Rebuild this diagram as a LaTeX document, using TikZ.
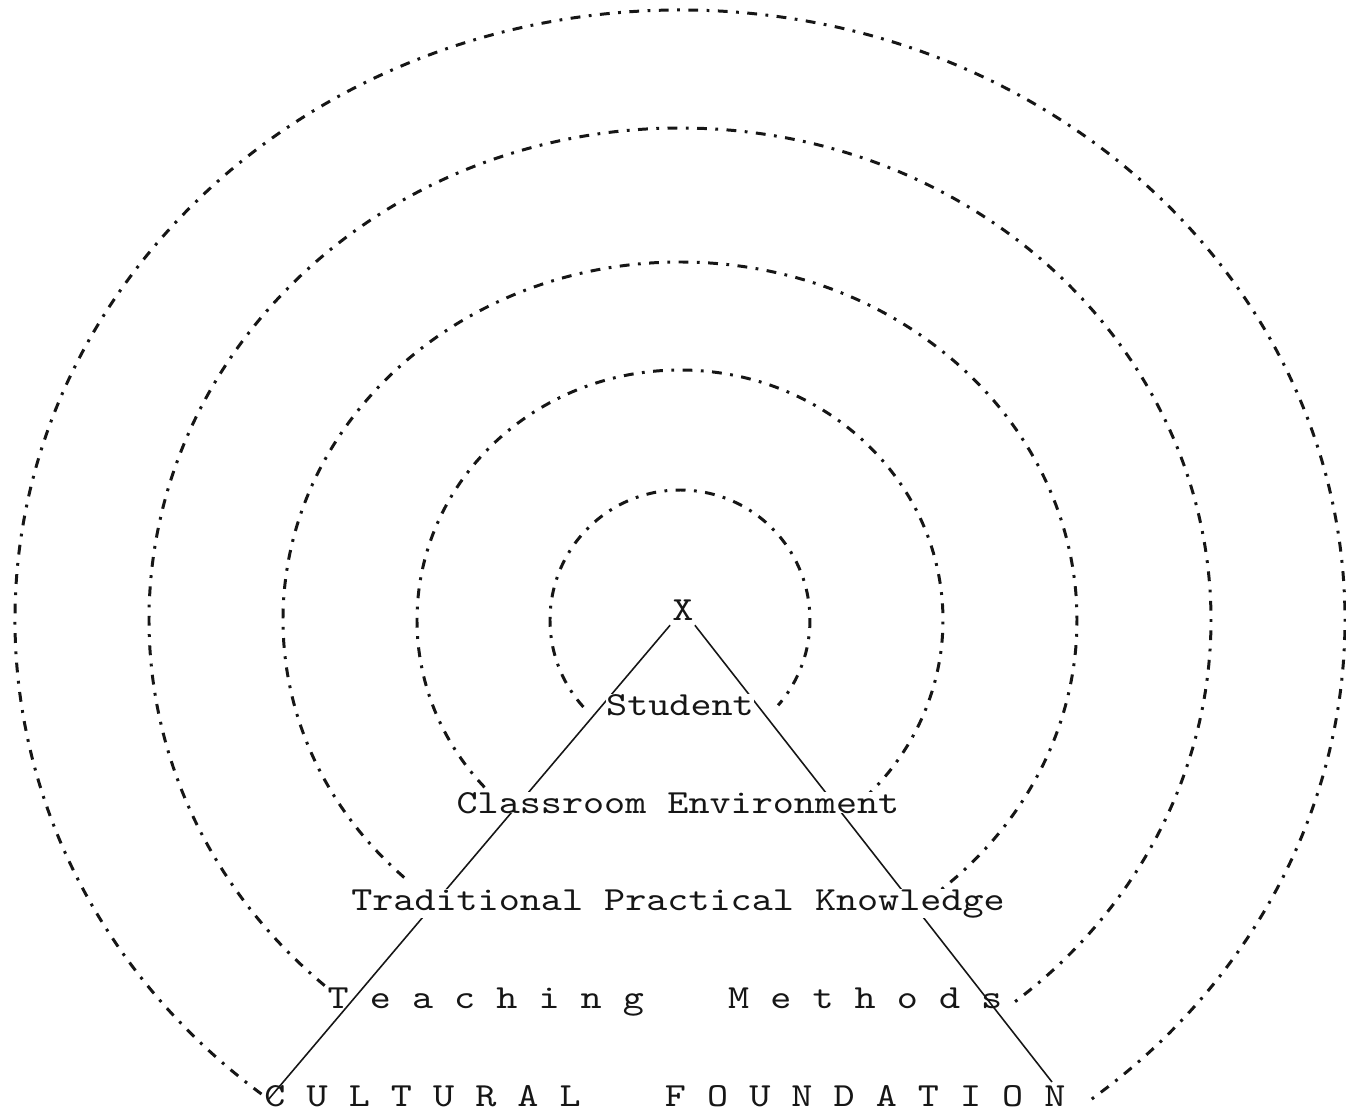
\documentclass[tikz,border=0pt]{standalone}
\usepackage{tikz}
\usetikzlibrary{positioning}
\definecolor{cInk}{HTML}{161616}
\tikzset{
  ring/.style ={draw=cInk, line width=0.85pt, dash pattern=on 2.8pt off 2.4pt on 0.8pt off 2.4pt},
  side/.style ={draw=cInk, line width=0.45pt},
  layer/.style={font=\fontsize{9.6}{11}\selectfont\ttfamily, text=cInk, xscale=1.19, inner sep=0pt, anchor=base},
}

\begin{document}
\begin{tikzpicture}[x=0.1mm, y=0.1mm]
  \useasboundingbox (-680,-493) rectangle (666,620);
  \coordinate (hub) at (0,0);
  \node[layer, anchor=center, inner sep=1.2pt] (apex) at (3,10) {X};
  \coordinate (footL) at (-412,-480);
  \coordinate (footR) at (372,-462);
  \draw[side] (apex) -- (footL);
  \draw[side] (apex) -- (footR);
  % five rings round the student, open at the bottom
  \foreach \rx/\ry/\sa/\ea in {130/130/222/-41, 263/250/222/-46, 397/358/226/-49, 531/492/228/-51, 665/610/231/-52}
    \draw[ring] ([shift={({\sa}:{\rx} and {\ry})}]hub) arc[start angle=\sa, end angle=\ea, x radius=\rx, y radius=\ry];
  \node[layer, fill=white] (student) at (0,-95) {Student};
  \node[layer, fill=white] (room) at (-2,-193) {Classroom Environment};
  \node[layer, fill=white] (know) at (-2,-290) {Traditional Practical Knowledge};
  \node[layer] (teach) at (-15,-388) {T~e~a~c~h~i~n~g~~~~M~e~t~h~o~d~s};
  \node[layer] (found) at (-15,-486) {C~U~L~T~U~R~A~L~~~~F~O~U~N~D~A~T~I~O~N};
\end{tikzpicture}
\end{document}
